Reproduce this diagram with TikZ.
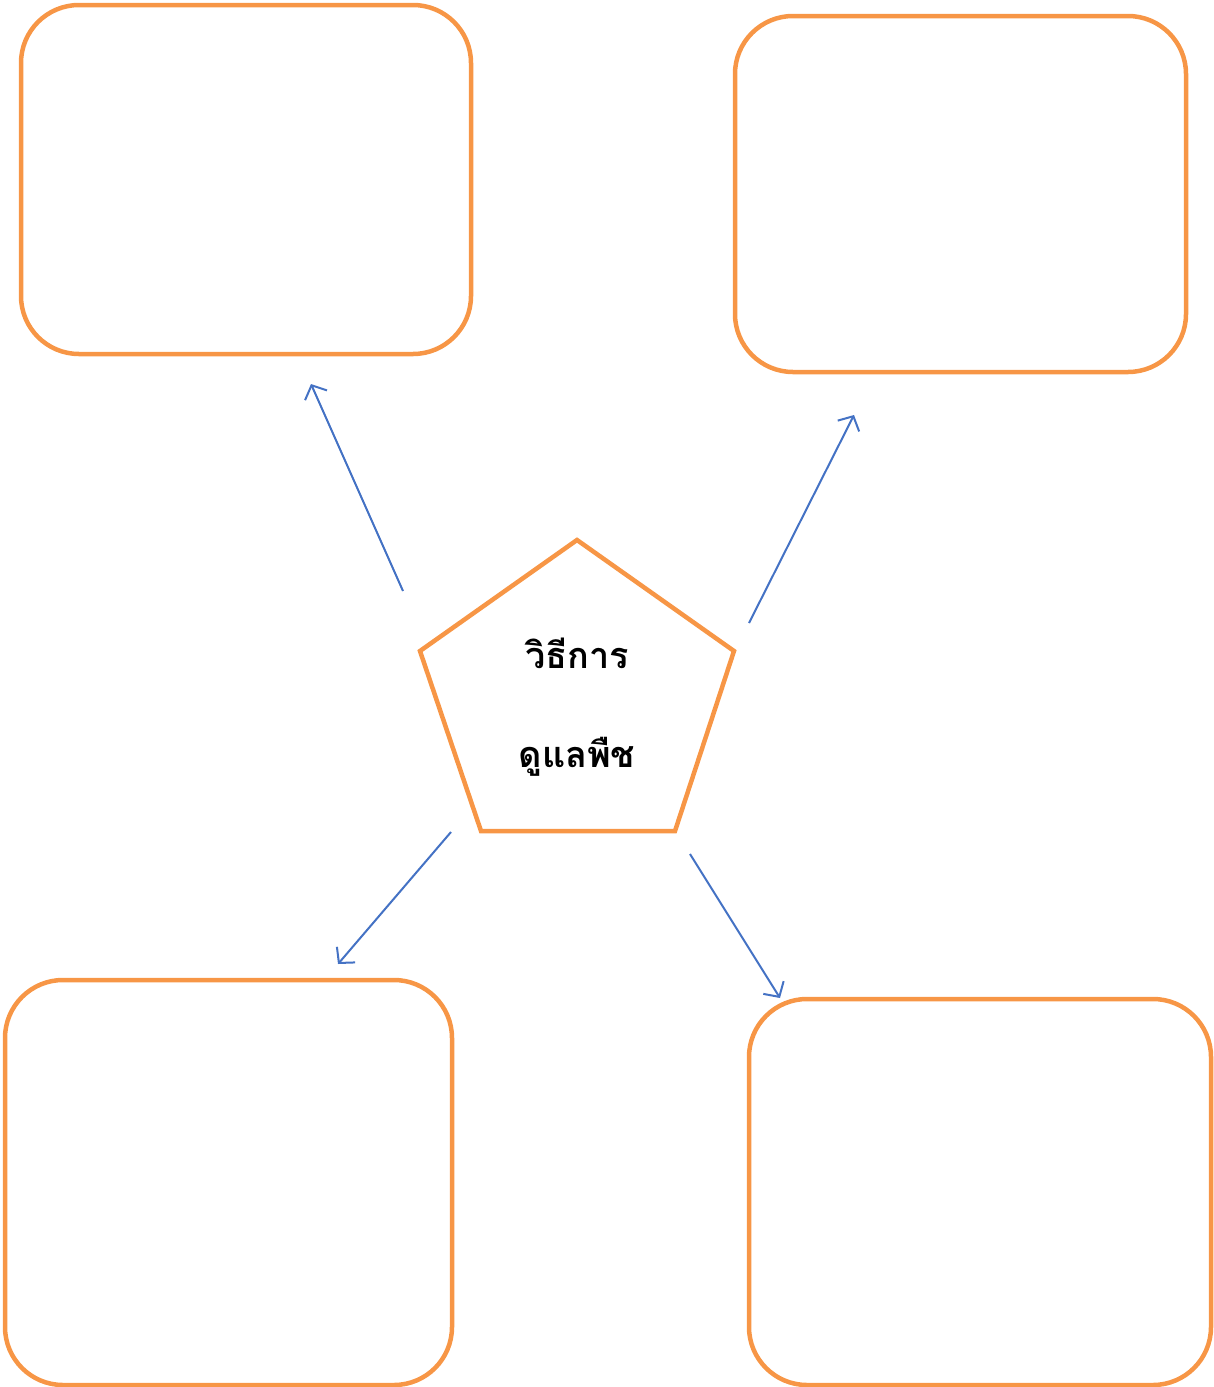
\documentclass[tikz,border=0pt]{standalone}
\usepackage{fontspec}
\newfontfamily\thaifont[Script=Thai]{Loma}
\usetikzlibrary{arrows.meta}
\definecolor{boxorange}{RGB}{247,150,70}
\definecolor{arrowblue}{RGB}{68,114,196}

\begin{document}
\begin{tikzpicture}[x=1pt,y=-1pt,
  box/.style={draw=boxorange,line width=4.5pt,rounded corners=58pt,inner sep=0pt},
  link/.style={draw=arrowblue,line width=2pt,-{Straight Barb[length=11pt,width=24pt,line width=2pt]}},
  label/.style={font=\thaifont\bfseries\fontsize{36}{42}\selectfont,inner sep=0pt}]
\useasboundingbox (0,0) rectangle (1213,1387);

% boxes
\node[box,minimum width=450pt,minimum height=349pt] (tl) at (246,179.5) {};
\node[box,minimum width=451pt,minimum height=356pt] (tr) at (960.5,194) {};
\node[box,minimum width=447pt,minimum height=405pt] (bl) at (228.5,1182.5) {};
\node[box,minimum width=462pt,minimum height=386pt] (br) at (980,1192) {};

% pentagon
\coordinate (top) at (577,540);
\coordinate (ul) at (420,651);
\coordinate (ur) at (734,651);
\coordinate (bll) at (481,831);
\coordinate (brr) at (675,831);
\draw[boxorange,line width=4.5pt,line join=miter] (top) -- (ur) -- (brr) -- (bll) -- (ul) -- cycle;

% labels
\node[label] (l1) at (577,653) {วิธีการ};
\node[label] (l2) at (577,757) {ดูแลพืช};

% arrows
\coordinate (a1) at (403,591);
\coordinate (e1) at (311,384);
\coordinate (a2) at (749,623);
\coordinate (e2) at (854,415);
\coordinate (a3) at (451,832);
\coordinate (e3) at (338,964);
\coordinate (a4) at (690,854);
\coordinate (e4) at (780,998);
\draw[link] (a1) -- (e1);
\draw[link] (a2) -- (e2);
\draw[link] (a3) -- (e3);
\draw[link] (a4) -- (e4);
\end{tikzpicture}
\end{document}
